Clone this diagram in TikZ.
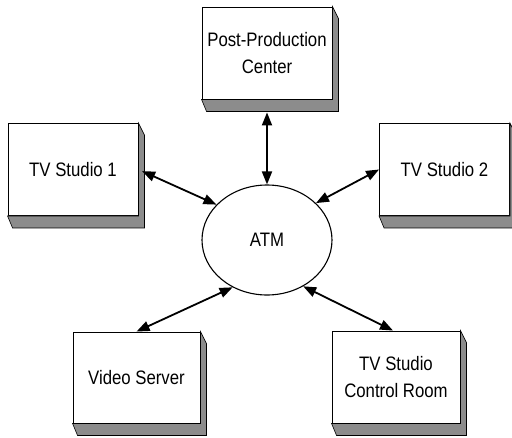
\documentclass[tikz,border=0pt]{standalone}
\usepackage{fontspec}
\setmainfont{Liberation Sans}[FakeStretch=0.86]
\usetikzlibrary{arrows.meta,shapes.geometric}
\tikzset{
  frontbox/.style={draw=black, line width=0.9pt, fill=white, rectangle, inner sep=0pt,
    minimum width=130pt, minimum height=92pt, align=center,
    font=\fontsize{19.5}{26.5}\selectfont},
  bevel/.style={draw=black, line width=0.6pt, fill=black!45},
  link/.style={line width=1.8pt, {Triangle[length=13pt,width=10pt]}-{Triangle[length=13pt,width=10pt]}},
  hub/.style={draw=black, line width=1.1pt, ellipse, minimum width=130pt, minimum height=110pt,
    inner sep=0pt, font=\fontsize{19.5}{23}\selectfont}
}
\newcommand{\bevelof}[1]{%
  \path[bevel] (#1.north east) -- ++(6,12) -- ([shift={(6,12)}]#1.south east)
    -- ([shift={(5,12)}]#1.south west) -- (#1.south west) -- (#1.south east) -- cycle;}
\begin{document}
\begin{tikzpicture}[x=1pt,y=-1pt]
\useasboundingbox (0,0) rectangle (512,437);
\node[frontbox] (post) at (267,53) {Post-Production\\Center};
\node[frontbox] (tv1) at (73,169.5) {TV Studio 1};
\node[frontbox] (tv2) at (444.5,169.5) {TV Studio 2};
\node[frontbox, minimum width=127pt, minimum height=91pt] (video) at (136.5,377.5) {Video Server};
\node[frontbox, minimum width=128pt] (ctrl) at (396,377) {TV Studio\\Control Room};
\bevelof{post}
\bevelof{tv1}
\bevelof{tv2}
\bevelof{video}
\bevelof{ctrl}
\node[hub] (atm) at (267,240) {ATM};
\draw[link, shorten <=13pt] (post.south) -- (atm.90);
\draw[link, shorten <=4pt] (tv1.east) -- (atm.145);
\draw[link] (tv2.west) -- (atm.37);
\draw[link] (video.north) -- (atm.234);
\draw[link] ([xshift=-3pt]ctrl.north) -- (atm.308);
\end{tikzpicture}
\end{document}
